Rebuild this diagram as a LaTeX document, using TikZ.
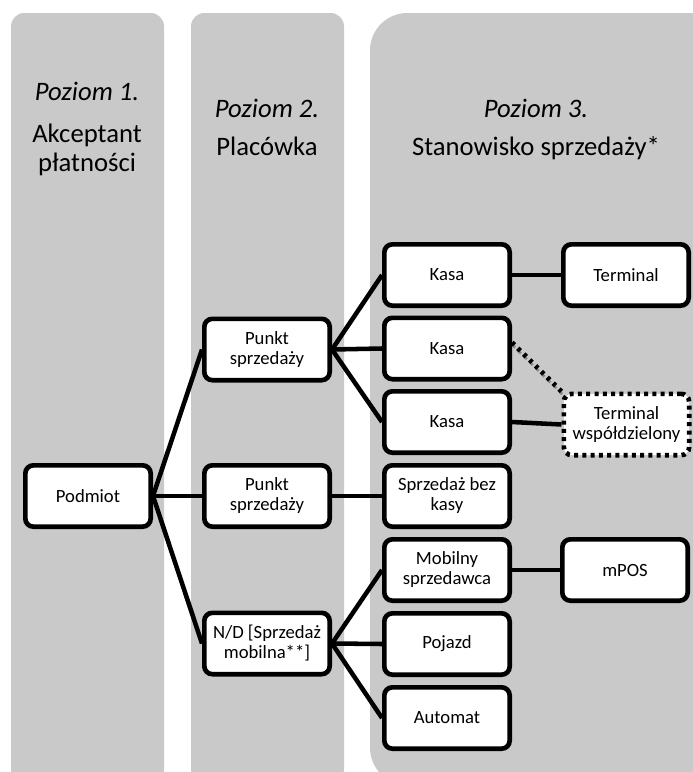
\documentclass[tikz,border=0pt]{standalone}
\usepackage{fontspec}
\setmainfont{Carlito}
\definecolor{colbg}{RGB}{201,201,201}
\tikzset{
  colfill/.style={fill=colbg},
  box/.style={draw=black, line width=3.5pt, fill=white, rounded corners=6pt,
    minimum width=94pt, minimum height=46pt, inner sep=0pt, align=center,
    font=\fontsize{14}{15}\selectfont},
  dotbox/.style={box, dash pattern=on 3pt off 3.2pt},
  wire/.style={draw=black, line width=3.4pt},
  dotwire/.style={draw=black, line width=3.6pt, dash pattern=on 2.6pt off 3.6pt},
  dotshadow/.style={draw=black!45, line width=2pt, dash pattern=on 2.6pt off 3.6pt},
  head/.style={anchor=base, inner sep=0pt, font=\fontsize{20}{23}\selectfont},
  headit/.style={head, font=\fontsize{20}{23}\selectfont\itshape}
}
\begin{document}
\begin{tikzpicture}[x=0.75pt,y=-0.75pt]
\useasboundingbox (0,0) rectangle (693,772);
\begin{scope}
\clip (0,0) rectangle (693,772);
\fill[colfill, rounded corners=10pt] (11,13) rectangle (164,782);
\fill[colfill, rounded corners=10pt] (191,13) rectangle (344,782);
\fill[colfill, rounded corners=28pt] (370,13) rectangle (740,785);
\end{scope}

% headings
\node[headit] (h1a) at (87,100) {Poziom 1.};
\node[head] (h1b) at (87,142) {Akceptant};
\node[head] (h1c) at (87,171) {płatności};
\node[headit] (h2a) at (267,117) {Poziom 2.};
\node[head] (h2b) at (267,155) {Placówka};
\node[headit] (h3a) at (536,117) {Poziom 3.};
\node[head] (h3b) at (536,155) {Stanowisko sprzedaży*};

% boxes
\node[box] (pod) at (88,496) {Podmiot};
\node[box] (p1) at (267,349.5) {Punkt\\sprzedaży};
\node[box] (p2) at (267,496) {Punkt\\sprzedaży};
\node[box] (nd) at (267,643.5) {N/D [Sprzedaż\\mobilna**]};
\node[box] (k1) at (447,275) {Kasa};
\node[box] (k2) at (447,348.5) {Kasa};
\node[box] (k3) at (447,422) {Kasa};
\node[box] (sbk) at (447,496) {Sprzedaż bez\\kasy};
\node[box] (mob) at (447,570) {Mobilny\\sprzedawca};
\node[box] (poj) at (447,644) {Pojazd};
\node[box] (aut) at (447,718) {Automat};
\node[box] (term) at (626,275) {Terminal};
\node[dotbox] (tw) at (626.5,424.5) {Terminal\\współdzielony};
\node[box] (mpos) at (625,570) {mPOS};

% connectors
\draw[wire] (pod.east) -- (p1.west);
\draw[wire] (pod.east) -- (p2.west);
\draw[wire] (pod.east) -- (nd.west);
\draw[wire] (p1.east) -- (k1.west);
\draw[wire] (p1.east) -- (k2.west);
\draw[wire] (p1.east) -- (k3.west);
\draw[wire] (p2.east) -- (sbk.west);
\draw[wire] (nd.east) -- (mob.west);
\draw[wire] (nd.east) -- (poj.west);
\draw[wire] (nd.east) -- (aut.west);
\draw[wire] (k1.east) -- (term.west);
\draw[wire] (k3.east) -- (tw.west);
\draw[wire] (mob.east) -- (mpos.west);
\coordinate (ds) at ([yshift=4.5pt]k2.east);
\coordinate (dss) at ([yshift=2.5pt,xshift=0.5pt]k2.east);
\coordinate (des) at ([yshift=-2pt,xshift=0.5pt]tw.north west);
\draw[dotshadow] (dss) -- (des);
\draw[dotwire] (ds) -- (tw.north west);
\end{tikzpicture}
\end{document}
